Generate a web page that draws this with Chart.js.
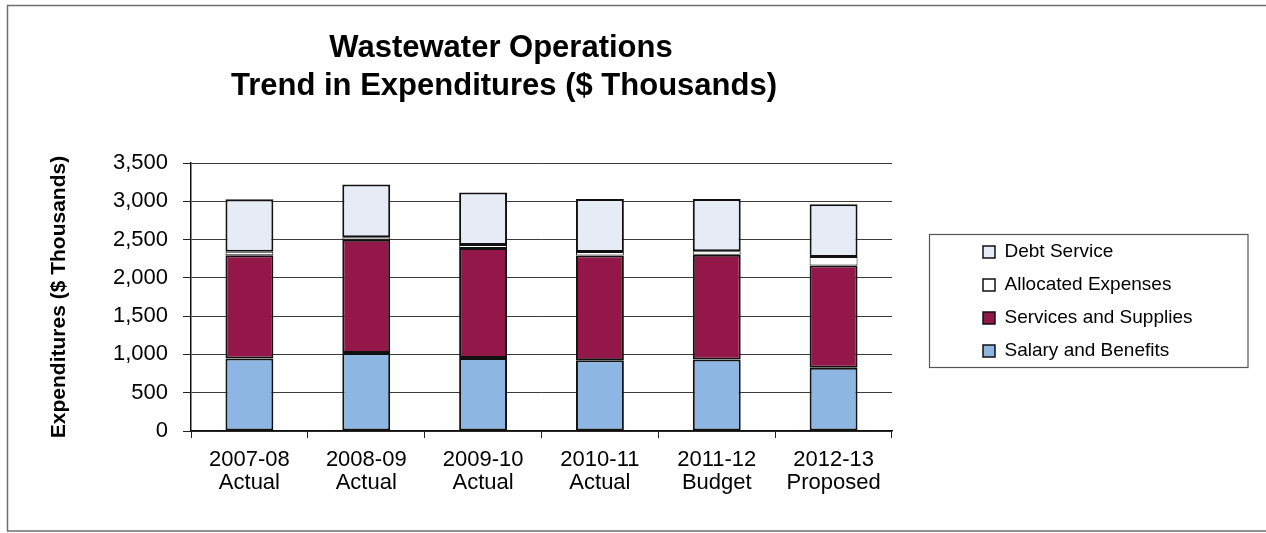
<!DOCTYPE html>
<html>
<head>
<meta charset="utf-8">
<script src="https://cdn.jsdelivr.net/npm/chart.js@4.4.1/dist/chart.umd.min.js"></script>
<style>
  html, body { margin: 0; padding: 0; background: #ffffff; }
  #c { display: block; }
</style>
</head>
<body>
<canvas id="c" width="1266" height="533"></canvas>
<script>
// ---- data ----
const categories = [
  ['2007-08', 'Actual'],
  ['2008-09', 'Actual'],
  ['2009-10', 'Actual'],
  ['2010-11', 'Actual'],
  ['2011-12', 'Budget'],
  ['2012-13', 'Proposed']
];
const salaryBenefits     = [946, 1020, 954, 925, 934, 825];
const servicesSupplies   = [1350, 1478, 1435, 1368, 1369, 1337];
const allocatedExpenses  = [44, 32, 39, 45, 43, 110];
const debtService        = [686, 690, 687, 692, 684, 688];
const seriesNames = ['Salary and Benefits', 'Services and Supplies', 'Allocated Expenses', 'Debt Service'];
const titleLines = ['Wastewater Operations', 'Trend in Expenditures ($ Thousands)'];
const yAxisTitle = 'Expenditures ($ Thousands)';
const yMin = 0, yMax = 3500, yStep = 500;

// ---- style ----
const FONT = '"Liberation Sans", Arial, Helvetica, sans-serif';
const colors = ['#8DB6E2', '#94174A', '#FFFFFF', '#E6EBF6'];
const borderWidths = [2, 2, 1, 2];
const legendFontSize = 19;
const legendPad = 14;
const legendBox = 12;

// measure legend width so the legend sits where the reference has it
const mctx = document.createElement('canvas').getContext('2d');
mctx.font = legendFontSize + 'px ' + FONT;
let maxText = 0;
seriesNames.forEach(n => { maxText = Math.max(maxText, mctx.measureText(n).width); });
const legendW = legendPad + legendBox + legendFontSize / 2 + maxText + 10;
const plotLeft = 191, plotRight = 892, plotTop = 163, plotBottom = 431;
const legendLeft = 969;
const padLeft = 7;
const padRight = 1266 - legendLeft - legendW;

const frameAndTitle = {
  id: 'frameAndTitle',
  beforeDraw(chart) {
    const ctx = chart.ctx;
    ctx.save();
    ctx.fillStyle = '#ffffff';
    ctx.fillRect(0, 0, chart.width, chart.height);
    ctx.restore();
  },
  afterDraw(chart) {
    const ctx = chart.ctx;
    ctx.save();
    // outer frame
    ctx.strokeStyle = '#6f6f6f';
    ctx.lineWidth = 1.5;
    ctx.beginPath();
    ctx.moveTo(1266, 5.5); ctx.lineTo(7.5, 5.5); ctx.lineTo(7.5, 531); ctx.lineTo(1266, 531);
    ctx.stroke();
    // title
    ctx.fillStyle = '#000000';
    ctx.font = 'bold 31px ' + FONT;
    ctx.textAlign = 'center';
    ctx.textBaseline = 'middle';
    ctx.fillText(titleLines[0], 501, 48);
    ctx.fillText(titleLines[1], 504, 86);
    // legend border
    const lg = chart.legend;
    if (lg && lg.legendHitBoxes && lg.legendHitBoxes.length) {
      const hb = lg.legendHitBoxes;
      const first = hb[0], last = hb[hb.length - 1];
      const top = first.top + first.height / 2 - 18;
      const bottom = last.top + last.height / 2 + 16;
      const left = Math.round(first.left - 54) + 0.5;
      ctx.strokeStyle = '#555555';
      ctx.lineWidth = 1.2;
      ctx.strokeRect(left, Math.round(top) + 0.5, 1248 - left, Math.round(bottom - top));
    }
    ctx.restore();
  }
};

new Chart(document.getElementById('c'), {
  type: 'bar',
  data: {
    labels: categories,
    datasets: [
      { label: seriesNames[0], data: salaryBenefits, backgroundColor: colors[0], borderWidth: borderWidths[0] },
      { label: seriesNames[1], data: servicesSupplies, backgroundColor: colors[1], borderWidth: borderWidths[1] },
      { label: seriesNames[2], data: allocatedExpenses, backgroundColor: colors[2], borderWidth: borderWidths[2] },
      { label: seriesNames[3], data: debtService, backgroundColor: colors[3], borderWidth: borderWidths[3] }
    ].map(d => Object.assign(d, {
      borderColor: '#111111',
      borderSkipped: false,
      barPercentage: 0.41,
      categoryPercentage: 1.0
    }))
  },
  options: {
    responsive: false,
    animation: false,
    devicePixelRatio: 1,
    layout: { padding: { left: padLeft, top: plotTop, right: padRight, bottom: 0 } },
    plugins: {
      title: { display: false },
      tooltip: { enabled: false },
      legend: {
        display: true,
        position: 'right',
        align: 'center',
        reverse: true,
        fullSize: false,
        maxWidth: 400,
        title: { display: true, text: '', font: { size: 1, lineHeight: 9 }, padding: 0 },
        labels: {
          color: '#000000',
          font: { family: FONT, size: legendFontSize },
          boxWidth: legendBox,
          boxHeight: legendBox,
          padding: legendPad,
          generateLabels(chart) {
            return chart.data.datasets.map((ds, i) => ({
              text: ds.label,
              fillStyle: ds.backgroundColor,
              strokeStyle: '#111111',
              lineWidth: 1.5,
              hidden: false,
              datasetIndex: i,
              fontColor: '#000000'
            }));
          }
        }
      }
    },
    scales: {
      x: {
        stacked: true,
        offset: true,
        afterFit(s) { s.height = 533 - plotBottom; },
        grid: { display: true, drawOnChartArea: false, drawTicks: true, tickLength: 7, color: '#222222', offset: true },
        border: { display: true, color: '#111111', width: 1.5 },
        ticks: {
          color: '#000000',
          font: { family: FONT, size: 22, lineHeight: 1.05 },
          padding: 10,
          maxRotation: 0,
          autoSkip: false
        }
      },
      y: {
        stacked: true,
        min: yMin,
        max: yMax,
        afterFit(s) { s.width = plotLeft - padLeft; },
        grid: { color: '#3c3c3c', lineWidth: 1, tickLength: 8, tickColor: '#222222' },
        border: { display: true, color: '#111111', width: 1.5 },
        ticks: {
          stepSize: yStep,
          color: '#000000',
          padding: 15,
          font: { family: FONT, size: 22 },
          callback: v => Number(v).toLocaleString('en-US')
        },
        title: {
          display: true,
          text: yAxisTitle,
          color: '#000000',
          font: { family: FONT, size: 21, weight: 'bold', lineHeight: 1.2 },
          padding: { top: 40, bottom: 0 }
        }
      },
      yR: {
        type: 'linear',
        position: 'right',
        display: true,
        afterFit(s) { s.width = legendLeft - plotRight; },
        grid: { display: false },
        border: { display: false },
        ticks: { display: false }
      }
    }
  },
  plugins: [frameAndTitle]
});
</script>
</body>
</html>
